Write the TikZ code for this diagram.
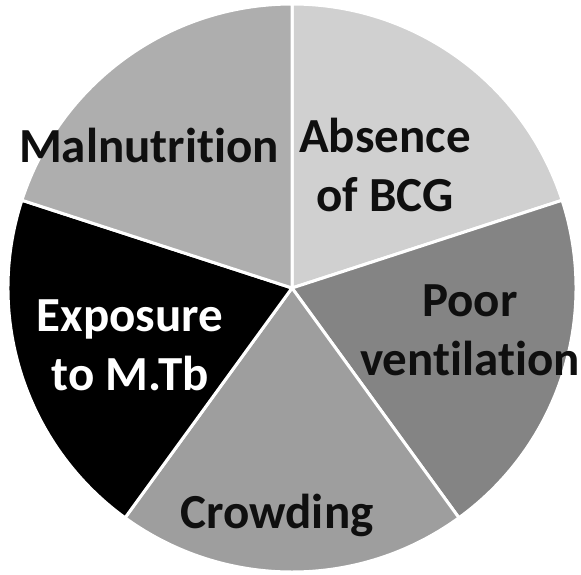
\documentclass[tikz,border=0pt]{standalone}
\usepackage{fontspec}
\setmainfont{Carlito}[Ligatures=NoCommon,RawFeature={-liga}]
\definecolor{cAbs}{RGB}{208,208,208}
\definecolor{cPoor}{RGB}{132,132,132}
\definecolor{cCrowd}{RGB}{158,158,158}
\definecolor{cExp}{RGB}{0,0,0}
\definecolor{cMal}{RGB}{174,174,174}
\definecolor{cTxt}{RGB}{15,15,15}
\begin{document}
\begin{tikzpicture}[x=1pt,y=-1pt,
  slice/.style={draw=white,line width=3pt,line join=round},
  lbl/.style={align=center,inner sep=0pt,text=cTxt,font=\bfseries\fontsize{49}{59}\selectfont}]
\useasboundingbox (0,0) rectangle (581,574);
\coordinate (c) at (292,288);
\def\R{284}
\filldraw[slice,fill=cAbs] (c) -- ++(90:-\R) arc[start angle=-90, end angle=-18, radius=\R] -- cycle;
\filldraw[slice,fill=cPoor] (c) -- ++(-18:\R) arc[start angle=-18, end angle=54, radius=\R] -- cycle;
\filldraw[slice,fill=cCrowd] (c) -- ++(54:\R) arc[start angle=54, end angle=126, radius=\R] -- cycle;
\filldraw[slice,fill=cExp] (c) -- ++(126:\R) arc[start angle=126, end angle=198, radius=\R] -- cycle;
\filldraw[slice,fill=cMal] (c) -- ++(198:\R) arc[start angle=198, end angle=270, radius=\R] -- cycle;
\node[lbl] (tMal) at (149,145) {Malnutrition};
\node[lbl] (tAbs) at (385,165) {Absence\\of BCG};
\node[lbl] (tPoor) at (470,330) {Poor\\ventilation};
\node[lbl,text=white] (tExp) at (130,345) {Exposure\\to M.Tb};
\node[lbl] (tCrowd) at (277,515) {Crowding};
\end{tikzpicture}
\end{document}
